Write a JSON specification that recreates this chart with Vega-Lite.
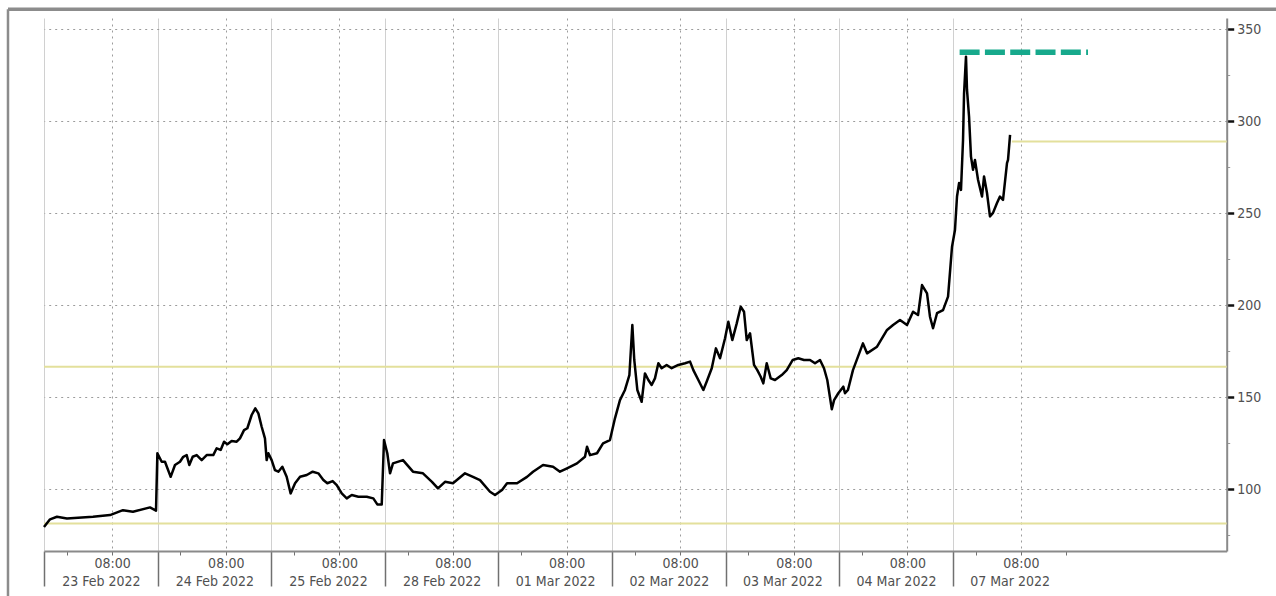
{
  "$schema": "https://vega.github.io/schema/vega-lite/v6.json",
  "width": 1182.7,
  "height": 533,
  "autosize": {"type": "none"},
  "padding": {"left": 44, "top": 18, "right": 49.3, "bottom": 45},
  "background": "white",
  "config": {"view": {"stroke": null}, "font": "DejaVu Sans Condensed, DejaVu Sans, sans-serif"},
  "datasets": {
    "price": [
      {"t": 0.000, "v": 79.5}, {"t": 0.053, "v": 83.7}, {"t": 0.114, "v": 85.1}, {"t": 0.202, "v": 84.2},
      {"t": 0.431, "v": 85.1}, {"t": 0.581, "v": 86.0}, {"t": 0.695, "v": 88.7}, {"t": 0.783, "v": 87.8},
      {"t": 0.933, "v": 90.2}, {"t": 0.986, "v": 88.4}, {"t": 0.998, "v": 119.6}, {"t": 1.036, "v": 115.0},
      {"t": 1.065, "v": 115.0}, {"t": 1.115, "v": 106.8}, {"t": 1.153, "v": 113.2}, {"t": 1.197, "v": 115.0},
      {"t": 1.226, "v": 117.7}, {"t": 1.256, "v": 118.6}, {"t": 1.279, "v": 113.2}, {"t": 1.309, "v": 117.7},
      {"t": 1.344, "v": 118.6}, {"t": 1.388, "v": 115.9}, {"t": 1.432, "v": 118.6}, {"t": 1.490, "v": 118.6},
      {"t": 1.520, "v": 122.3}, {"t": 1.555, "v": 121.4}, {"t": 1.585, "v": 125.9}, {"t": 1.614, "v": 124.5},
      {"t": 1.652, "v": 126.3}, {"t": 1.696, "v": 125.9}, {"t": 1.725, "v": 127.7}, {"t": 1.761, "v": 132.2},
      {"t": 1.790, "v": 133.2}, {"t": 1.828, "v": 140.4}, {"t": 1.860, "v": 144.0}, {"t": 1.887, "v": 141.3},
      {"t": 1.916, "v": 134.0}, {"t": 1.945, "v": 127.7}, {"t": 1.960, "v": 115.9}, {"t": 1.975, "v": 119.6},
      {"t": 2.004, "v": 115.9}, {"t": 2.033, "v": 110.5}, {"t": 2.063, "v": 109.6}, {"t": 2.098, "v": 112.3},
      {"t": 2.136, "v": 106.8}, {"t": 2.171, "v": 97.8}, {"t": 2.210, "v": 103.3}, {"t": 2.254, "v": 106.8},
      {"t": 2.313, "v": 107.8}, {"t": 2.365, "v": 109.6}, {"t": 2.415, "v": 108.7}, {"t": 2.459, "v": 105.1},
      {"t": 2.494, "v": 103.3}, {"t": 2.541, "v": 104.5}, {"t": 2.577, "v": 102.3}, {"t": 2.621, "v": 97.8},
      {"t": 2.665, "v": 95.1}, {"t": 2.709, "v": 96.9}, {"t": 2.767, "v": 96.0}, {"t": 2.841, "v": 96.0},
      {"t": 2.899, "v": 95.1}, {"t": 2.934, "v": 91.8}, {"t": 2.973, "v": 91.8}, {"t": 2.993, "v": 126.8},
      {"t": 3.022, "v": 119.6}, {"t": 3.046, "v": 108.7}, {"t": 3.072, "v": 114.1}, {"t": 3.160, "v": 115.9},
      {"t": 3.248, "v": 109.6}, {"t": 3.336, "v": 108.7}, {"t": 3.415, "v": 104.1}, {"t": 3.468, "v": 100.5},
      {"t": 3.530, "v": 104.1}, {"t": 3.600, "v": 103.3}, {"t": 3.706, "v": 108.7}, {"t": 3.776, "v": 106.8},
      {"t": 3.838, "v": 105.0}, {"t": 3.926, "v": 98.7}, {"t": 3.970, "v": 96.9}, {"t": 4.032, "v": 99.6},
      {"t": 4.076, "v": 103.3}, {"t": 4.164, "v": 103.3}, {"t": 4.252, "v": 106.8}, {"t": 4.305, "v": 109.6},
      {"t": 4.393, "v": 113.2}, {"t": 4.481, "v": 112.3}, {"t": 4.542, "v": 109.6}, {"t": 4.604, "v": 111.4},
      {"t": 4.692, "v": 114.1}, {"t": 4.762, "v": 117.7}, {"t": 4.780, "v": 123.2}, {"t": 4.806, "v": 118.6},
      {"t": 4.868, "v": 119.6}, {"t": 4.921, "v": 125.0}, {"t": 4.982, "v": 126.8}, {"t": 5.026, "v": 138.6},
      {"t": 5.070, "v": 148.5}, {"t": 5.114, "v": 154.0}, {"t": 5.153, "v": 162.1}, {"t": 5.179, "v": 189.3},
      {"t": 5.196, "v": 170.3}, {"t": 5.223, "v": 154.0}, {"t": 5.261, "v": 147.6}, {"t": 5.290, "v": 163.0},
      {"t": 5.320, "v": 159.4}, {"t": 5.349, "v": 156.7}, {"t": 5.378, "v": 160.3}, {"t": 5.408, "v": 168.5},
      {"t": 5.437, "v": 165.8}, {"t": 5.481, "v": 167.6}, {"t": 5.525, "v": 165.8}, {"t": 5.584, "v": 167.6},
      {"t": 5.643, "v": 168.5}, {"t": 5.687, "v": 169.4}, {"t": 5.716, "v": 164.8}, {"t": 5.760, "v": 159.4},
      {"t": 5.804, "v": 154.0}, {"t": 5.833, "v": 158.5}, {"t": 5.878, "v": 165.8}, {"t": 5.915, "v": 176.6},
      {"t": 5.951, "v": 171.2}, {"t": 5.995, "v": 182.1}, {"t": 6.024, "v": 191.1}, {"t": 6.059, "v": 181.1},
      {"t": 6.098, "v": 190.2}, {"t": 6.133, "v": 199.2}, {"t": 6.162, "v": 196.5}, {"t": 6.186, "v": 181.1},
      {"t": 6.215, "v": 184.8}, {"t": 6.250, "v": 167.6}, {"t": 6.279, "v": 164.8}, {"t": 6.309, "v": 161.2},
      {"t": 6.332, "v": 157.6}, {"t": 6.362, "v": 168.5}, {"t": 6.397, "v": 160.3}, {"t": 6.435, "v": 159.4},
      {"t": 6.494, "v": 162.1}, {"t": 6.538, "v": 164.8}, {"t": 6.591, "v": 170.3}, {"t": 6.640, "v": 171.2},
      {"t": 6.690, "v": 170.3}, {"t": 6.743, "v": 170.3}, {"t": 6.787, "v": 168.5}, {"t": 6.831, "v": 170.3},
      {"t": 6.866, "v": 165.8}, {"t": 6.895, "v": 159.4}, {"t": 6.935, "v": 143.5}, {"t": 6.955, "v": 148.5},
      {"t": 6.992, "v": 152.2}, {"t": 7.036, "v": 155.8}, {"t": 7.051, "v": 152.2}, {"t": 7.077, "v": 154.0},
      {"t": 7.121, "v": 164.8}, {"t": 7.209, "v": 179.3}, {"t": 7.245, "v": 173.9}, {"t": 7.333, "v": 177.5},
      {"t": 7.421, "v": 186.6}, {"t": 7.474, "v": 189.3}, {"t": 7.535, "v": 192.0}, {"t": 7.597, "v": 189.3},
      {"t": 7.650, "v": 196.5}, {"t": 7.694, "v": 194.7}, {"t": 7.729, "v": 211.0}, {"t": 7.773, "v": 206.5},
      {"t": 7.799, "v": 193.8}, {"t": 7.826, "v": 187.5}, {"t": 7.861, "v": 195.7}, {"t": 7.914, "v": 197.4},
      {"t": 7.958, "v": 204.7}, {"t": 7.993, "v": 231.8}, {"t": 8.019, "v": 240.9}, {"t": 8.037, "v": 259.1},
      {"t": 8.055, "v": 266.4}, {"t": 8.072, "v": 262.7}, {"t": 8.090, "v": 289.8}, {"t": 8.099, "v": 315.1},
      {"t": 8.116, "v": 335.1}, {"t": 8.125, "v": 317.0}, {"t": 8.143, "v": 302.5}, {"t": 8.160, "v": 280.8},
      {"t": 8.178, "v": 273.6}, {"t": 8.195, "v": 279.0}, {"t": 8.222, "v": 268.2}, {"t": 8.257, "v": 259.1},
      {"t": 8.275, "v": 270.0}, {"t": 8.301, "v": 261.0}, {"t": 8.327, "v": 248.3}, {"t": 8.354, "v": 250.2},
      {"t": 8.389, "v": 255.6}, {"t": 8.415, "v": 259.1}, {"t": 8.442, "v": 257.3}, {"t": 8.477, "v": 277.2},
      {"t": 8.486, "v": 279.0}, {"t": 8.504, "v": 292.6}
    ],
    "levels": [
      {"level": 81.5, "from": 0, "to": 10.411},
      {"level": 166.6, "from": 0, "to": 10.411},
      {"level": 289.0, "from": 8.52, "to": 10.411}
    ],
    "peak": [
      {"level": 337.5, "from": 8.06, "to": 9.19}
    ]
  },
  "layer": [
    {
      "data": {"name": "levels"},
      "mark": {"type": "rule", "color": "#e3e09c", "strokeWidth": 2},
      "encoding": {
        "x": {
          "field": "from", "type": "quantitative",
          "scale": {"domain": [0, 10.411], "nice": false, "zero": false},
          "axis": {
            "title": null,
            "tickCount": 500,
            "values": [0, 0.2, 0.5, 0.6, 1, 1.2, 1.5, 1.6, 2, 2.2, 2.5, 2.6, 3, 3.2, 3.5, 3.6, 4, 4.2, 4.5, 4.6, 5, 5.2, 5.5, 5.6, 6, 6.2, 6.5, 6.6, 7, 7.2, 7.5, 7.6, 8, 8.2, 8.5, 8.6, 9],
            "domainColor": "#8a8a8a", "domainWidth": 2,
            "labelExpr": "round((datum.value-floor(datum.value))*10)==5 ? ['23 Feb 2022','24 Feb 2022','25 Feb 2022','28 Feb 2022','01 Mar 2022','02 Mar 2022','03 Mar 2022','04 Mar 2022','07 Mar 2022'][floor(datum.value)] : (round((datum.value-floor(datum.value))*10)==6 ? '08:00' : '')",
            "labelFontSize": 14, "labelColor": "#505050",
            "labelOverlap": false, "labelFlush": false, "labelBound": false,
            "labelPadding": {"condition": {"test": "round((datum.value-floor(datum.value))*10)==5", "value": 19}, "value": 1},
            "tickColor": "#707070",
            "tickSize": {"condition": {"test": "round((datum.value-floor(datum.value))*10)==0 && datum.value < 8.9", "value": 35}, "value": 4},
            "tickWidth": {"condition": {"test": "round((datum.value-floor(datum.value))*10)==0 && datum.value < 8.9", "value": 1.5}, "value": 1},
            "tickOpacity": {"condition": {"test": "round((datum.value-floor(datum.value))*10)==5", "value": 0}, "value": 1},
            "grid": true,
            "gridColor": {"condition": {"test": "round((datum.value-floor(datum.value))*10)==0", "value": "#d0d0d0"}, "value": "#9c9c9c"},
            "gridDash": {"condition": {"test": "round((datum.value-floor(datum.value))*10)==0", "value": []}, "value": [2, 4]},
            "gridOpacity": {"condition": {"test": "round((datum.value-floor(datum.value))*10)==2 || round((datum.value-floor(datum.value))*10)==5 || datum.value > 8.9", "value": 0}, "value": 1}
          }
        },
        "x2": {"field": "to"},
        "y": {
          "field": "level", "type": "quantitative",
          "scale": {"domain": [66.5, 356.1], "nice": false, "zero": false},
          "axis": {
            "title": null,
            "orient": "right",
            "tickCount": 500,
            "format": "d",
            "values": [75, 100, 125, 150, 175, 200, 225, 250, 275, 300, 325, 350],
            "domainColor": "#8a8a8a", "domainWidth": 2,
            "tickColor": {"condition": {"test": "datum.value % 50 == 0", "value": "#111111"}, "value": "#999999"},
            "tickSize": {"condition": {"test": "datum.value % 50 == 0", "value": 7}, "value": 3},
            "tickWidth": {"condition": {"test": "datum.value % 50 == 0", "value": 2.5}, "value": 1},
            "labelExpr": "datum.value % 50 == 0 ? format(datum.value, 'd') : ''",
            "labelFontSize": 14, "labelColor": "#505050", "labelPadding": 3,
            "grid": true,
            "gridColor": "#9c9c9c", "gridDash": [2, 4],
            "gridOpacity": {"condition": {"test": "datum.value % 50 == 0", "value": 1}, "value": 0}
          }
        }
      }
    },
    {
      "data": {"values": [{}]},
      "mark": {"type": "rule", "clip": false, "color": "#8c8c8c", "strokeWidth": 3.5},
      "encoding": {
        "x": {"datum": -0.317, "type": "quantitative"},
        "x2": {"datum": 10.9},
        "y": {"datum": 360.8, "type": "quantitative"}
      }
    },
    {
      "data": {"values": [{}]},
      "mark": {"type": "rule", "clip": false, "color": "#8c8c8c", "strokeWidth": 2.5},
      "encoding": {
        "x": {"datum": -0.317, "type": "quantitative"},
        "y": {"datum": 360.8, "type": "quantitative"},
        "y2": {"datum": 40}
      }
    },
    {
      "data": {"name": "peak"},
      "mark": {"type": "rule", "color": "#17a98c", "strokeWidth": 5.5, "strokeDash": [20, 5.3], "strokeCap": "butt"},
      "encoding": {
        "x": {"field": "from", "type": "quantitative"},
        "x2": {"field": "to"},
        "y": {"field": "level", "type": "quantitative"}
      }
    },
    {
      "data": {"name": "price"},
      "mark": {"type": "line", "color": "#000000", "strokeWidth": 2.5, "strokeJoin": "round"},
      "encoding": {
        "x": {"field": "t", "type": "quantitative"},
        "y": {"field": "v", "type": "quantitative"}
      }
    }
  ]
}
